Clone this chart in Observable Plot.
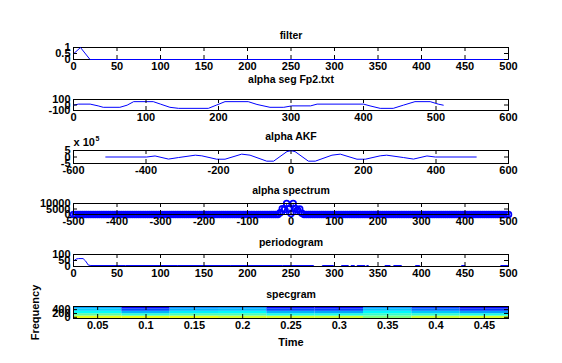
<!DOCTYPE html>
<html><head><meta charset="utf-8">
<script src="https://cdn.jsdelivr.net/npm/d3@7"></script>
<script src="https://cdn.jsdelivr.net/npm/@observablehq/plot@0.6"></script>
<style>
body{margin:0;background:#fff;}
#fig{position:relative;width:562px;height:363px;background:#fff;overflow:hidden;color:#000;}
#fig svg{position:absolute;left:0;}
</style></head><body><div id="fig"></div>
<script>
// ---------- data ----------
const titles = ["filter", "alpha seg Fp2.txt", "alpha AKF", "alpha spectrum", "periodogram", "specgram"];

// panel 1: filter
const filterX = [0, 8, 19, 500];
const filterY = [0.47, 1, 0, 0];
const filterXTicks = [0, 50, 100, 150, 200, 250, 300, 350, 400, 450, 500];
const filterYTicks = [0, 0.5, 1];

// panel 2: alpha segment
const segX = [0,7,23,34,41,64,74,83,110,120,133,145,186,197,209,241,253,271,290,301,327,336,400,409,423,441,455,471,492,503,510];
const segY = [-3,16,16,-16,-42,-42,-3,61,61,16,-42,-61,-61,-3,61,61,10,-42,-42,-16,-16,16,16,-16,-61,-61,-3,61,61,16,-3];
const segXTicks = [0, 100, 200, 300, 400, 500, 600];
const segYTicks = [-100, 0, 100];

// panel 3: autocorrelation (x 10^5)
const akfX = [-511,-398,-375,-338,-310,-264,-246,-205,-182,-136,-113,-67,-48,-11,0,11,48,67,113,136,182,205,246,264,310,338,375,398,511];
const akfY = [0,0,0.8,-1.6,-0.4,1.4,0.9,-1.7,-1.7,2.2,1.4,-3.2,-3.2,4.2,4.8,4.2,-3.2,-3.2,1.4,2.2,-1.7,-1.7,0.9,1.4,-0.4,-1.6,0.8,0,0];
const akfXTicks = [-600, -400, -200, 0, 200, 400, 600];
const akfYTicks = [-5, 0, 5];

// panel 4: spectrum (stem)
const specFreq = [
-500,-495,-490,-485,-480,-475,-470,-465,-460,-455,
-450,-445,-440,-435,-430,-425,-420,-415,-410,-405,
-400,-395,-390,-385,-380,-375,-370,-365,-360,-355,
-350,-345,-340,-335,-330,-325,-320,-315,-310,-305,
-300,-295,-290,-285,-280,-275,-270,-265,-260,-255,
-250,-245,-240,-235,-230,-225,-220,-215,-210,-205,
-200,-195,-190,-185,-180,-175,-170,-165,-160,-155,
-150,-145,-140,-135,-130,-125,-120,-115,-110,-105,
-100,-95,-90,-85,-80,-75,-70,-65,-60,-55,
-50,-45,-40,-35,-30,-25,-20,-15,-10,-5,
0,5,10,15,20,25,30,35,40,45,
50,55,60,65,70,75,80,85,90,95,
100,105,110,115,120,125,130,135,140,145,
150,155,160,165,170,175,180,185,190,195,
200,205,210,215,220,225,230,235,240,245,
250,255,260,265,270,275,280,285,290,295,
300,305,310,315,320,325,330,335,340,345,
350,355,360,365,370,375,380,385,390,395,
400,405,410,415,420,425,430,435,440,445,
450,455,460,465,470,475,480,485,490,495,
500];
const specMag = [
0,0,0,0,0,0,0,0,0,0,
0,0,0,0,0,0,0,0,0,0,
0,0,0,0,0,0,0,0,0,0,
0,0,0,0,0,0,0,0,0,0,
0,0,0,0,0,0,0,0,0,0,
0,0,0,0,0,0,0,0,0,0,
0,0,0,0,0,0,0,0,0,0,
0,0,0,0,0,0,0,0,0,0,
0,0,0,0,0,0,0,0,0,0,
0,0,0,0,0,1500,5200,4500,10000,5000,
800,10000,5500,4000,5000,1200,0,0,0,0,
0,0,0,0,0,0,0,0,0,0,
0,0,0,0,0,0,0,0,0,0,
0,0,0,0,0,0,0,0,0,0,
0,0,0,0,0,0,0,0,0,0,
0,0,0,0,0,0,0,0,0,0,
0,0,0,0,0,0,0,0,0,0,
0,0,0,0,0,0,0,0,0,0,
0,0,0,0,0,0,0,0,0,0,
0,0,0,0,0,0,0,0,0,0,
0];
const specXTicks = [-500, -400, -300, -200, -100, 0, 100, 200, 300, 400, 500];
const specYTicks = [0, 5000, 10000];

// panel 5: periodogram
const perX = [0,3,6,11,14,17,20,60,120,180,240,276,278,284,286,299,301,307,308,316,318,319,323,325,326,335,336,337,339,341,357,358,364,366,368,377,379,392,393,398,400,445,446,450,452,490,491,500];
const perY = [45,62,66,66,45,12,8,8,8,8,8,8,-8,-8,8,8,-8,-8,8,8,-8,8,8,-8,8,8,-8,8,8,-8,-8,8,8,-8,8,8,-8,-8,8,8,-8,-8,8,8,-8,-8,8,8];
const perXTicks = [0, 50, 100, 150, 200, 250, 300, 350, 400, 450, 500];
const perYTicks = [0, 50, 100];

// panel 6: spectrogram (rows: frequency bins bottom -> top)
const sgTime = [0.05, 0.1, 0.15, 0.2, 0.25, 0.3, 0.35, 0.4, 0.45];
const sgFreq = [0, 125, 250, 375, 500];
const sgPower = [
  [0.60, 0.47, 0.38, 0.33, 0.29],
  [0.60, 0.42, 0.30, 0.20, 0.12],
  [0.60, 0.45, 0.36, 0.30, 0.26],
  [0.58, 0.45, 0.37, 0.31, 0.27],
  [0.58, 0.40, 0.30, 0.20, 0.13],
  [0.57, 0.40, 0.29, 0.19, 0.12],
  [0.50, 0.43, 0.37, 0.32, 0.27],
  [0.57, 0.42, 0.32, 0.24, 0.18],
  [0.58, 0.40, 0.28, 0.18, 0.11]
];
const sgXTicks = [0.05, 0.1, 0.15, 0.2, 0.25, 0.3, 0.35, 0.4, 0.45];
const sgYTicks = [0, 200, 400];

// ---------- helpers ----------
const W = 562, ML = 73, MR = 54, FW = W - ML - MR, TL = 4;
const FONT = "'Liberation Sans', Arial, sans-serif";
const BLUE = "#0000ff";
const fig = document.getElementById("fig");

function jet(t) {
  t = Math.max(0, Math.min(1, t));
  const c = v => Math.round(255 * Math.max(0, Math.min(1, v)));
  const r = Math.min(4 * t - 1.5, -4 * t + 4.5);
  const g = Math.min(4 * t - 0.5, -4 * t + 3.5);
  const b = Math.min(4 * t + 0.5, -4 * t + 2.5);
  return `rgb(${c(r)},${c(g)},${c(b)})`;
}

function panel({top, h, tOff, title, xDomain, xTicks, yDomain, yTicks, marks, frameOnTop = false, mb = 18, extra = [], color}) {
  const mt = 26;
  const frame = Plot.frame({stroke: "black"});
  const opts = {
    width: W, height: h + mt + mb,
    marginLeft: ML, marginRight: MR, marginTop: mt, marginBottom: mb,
    style: {fontFamily: FONT, fontSize: "11px", fontWeight: "bold", background: "none", overflow: "visible", color: "black"},
    x: {domain: xDomain, label: null},
    y: {domain: yDomain, label: null},
    marks: [
      ...(frameOnTop ? [] : [frame]),
      ...marks,
      ...(frameOnTop ? [frame] : []),
      Plot.tickX(xTicks, {x: d => d, insetTop: h - TL, stroke: "black"}),
      Plot.tickX(xTicks, {x: d => d, insetBottom: h - TL, stroke: "black"}),
      Plot.tickY(yTicks, {y: d => d, insetRight: FW - TL, stroke: "black"}),
      Plot.tickY(yTicks, {y: d => d, insetLeft: FW - TL, stroke: "black"}),
      Plot.axisX(xTicks, {tickSize: 0, tickPadding: 3, tickFormat: d => String(d), label: null}),
      Plot.axisY(yTicks, {tickSize: 0, tickPadding: 3, tickFormat: d => String(d), label: null}),
      Plot.text([title], {frameAnchor: "top", lineAnchor: "bottom", dy: -tOff, fontSize: 10.5, fontWeight: "bold"}),
      ...extra
    ]
  };
  if (color) opts.color = color;
  const svg = Plot.plot(opts);
  svg.style.top = (top - mt) + "px";
  fig.appendChild(svg);
}

// panel 1
panel({
  top: 47, h: 12, tOff: 9, title: titles[0],
  xDomain: [0, 500], xTicks: filterXTicks, yDomain: [0, 1], yTicks: filterYTicks,
  marks: [Plot.line(filterX.map((x, i) => ({x, y: filterY[i]})), {x: "x", y: "y", stroke: BLUE, strokeWidth: 1})]
});

// panel 2
panel({
  top: 99, h: 11, tOff: 16.5, title: titles[1],
  xDomain: [0, 600], xTicks: segXTicks, yDomain: [-100, 100], yTicks: segYTicks,
  marks: [Plot.line(segX.map((x, i) => ({x, y: segY[i]})), {x: "x", y: "y", stroke: BLUE, strokeWidth: 1})]
});

// panel 3
panel({
  top: 150, h: 13, tOff: 10.5, title: titles[2],
  xDomain: [-600, 600], xTicks: akfXTicks, yDomain: [-5, 5], yTicks: akfYTicks,
  marks: [Plot.line(akfX.map((x, i) => ({x, y: akfY[i]})), {x: "x", y: "y", stroke: BLUE, strokeWidth: 1})],
  extra: [
    Plot.text(["x 10"], {frameAnchor: "top-left", textAnchor: "start", lineAnchor: "bottom", dy: -5, dx: 0, fontSize: 11, fontWeight: "bold"}),
    Plot.text(["5"], {frameAnchor: "top-left", textAnchor: "start", lineAnchor: "bottom", dy: -10, dx: 22, fontSize: 7, fontWeight: "bold"})
  ]
});

// panel 4
const specData = specFreq.map((f, i) => ({f, m: specMag[i]}));
panel({
  top: 203, h: 11, tOff: 10, title: titles[3],
  xDomain: [-500, 500], xTicks: specXTicks, yDomain: [0, 10000], yTicks: specYTicks,
  frameOnTop: true,
  marks: [
    Plot.ruleX(specData, {x: "f", y1: 0, y2: "m", stroke: BLUE, strokeWidth: 1}),
    Plot.dot(specData, {x: "f", y: "m", r: 2.9, stroke: BLUE, strokeWidth: 1.7, fill: "none"})
  ]
});

// panel 5
panel({
  top: 254, h: 12, tOff: 9, title: titles[4],
  xDomain: [0, 500], xTicks: perXTicks, yDomain: [0, 100], yTicks: perYTicks,
  marks: [Plot.line(perX.map((x, i) => ({x, y: perY[i]})), {x: "x", y: "y", stroke: BLUE, strokeWidth: 1, clip: true})]
});

// panel 6
const sgCells = [];
sgTime.forEach((t, i) => sgFreq.forEach((f, j) => sgCells.push({t, f, v: sgPower[i][j]})));
const dT = sgTime[1] - sgTime[0], dF = sgFreq[1] - sgFreq[0];
panel({
  top: 306, h: 12, tOff: 8.5, title: titles[5], mb: 34,
  xDomain: [sgTime[0] - dT / 2, sgTime[sgTime.length - 1] + dT / 2], xTicks: sgXTicks,
  yDomain: [sgFreq[0] - dF / 2, sgFreq[sgFreq.length - 1] + dF / 2], yTicks: sgYTicks,
  color: {type: "linear", domain: [0, 1], interpolate: t => jet(t)},
  marks: [
    Plot.rect(sgCells, {x1: d => d.t - dT / 2, x2: d => d.t + dT / 2, y1: d => d.f - dF / 2, y2: d => d.f + dF / 2, fill: "v"})
  ],
  frameOnTop: true,
  extra: [
    Plot.text(["Frequency"], {frameAnchor: "left", rotate: -90, dx: -38, lineAnchor: "middle", textAnchor: "middle", fontSize: 11, fontWeight: "bold"}),
    Plot.text(["Time"], {frameAnchor: "bottom", lineAnchor: "middle", dy: 24, fontSize: 11, fontWeight: "bold"})
  ]
});
</script>
</body></html>
